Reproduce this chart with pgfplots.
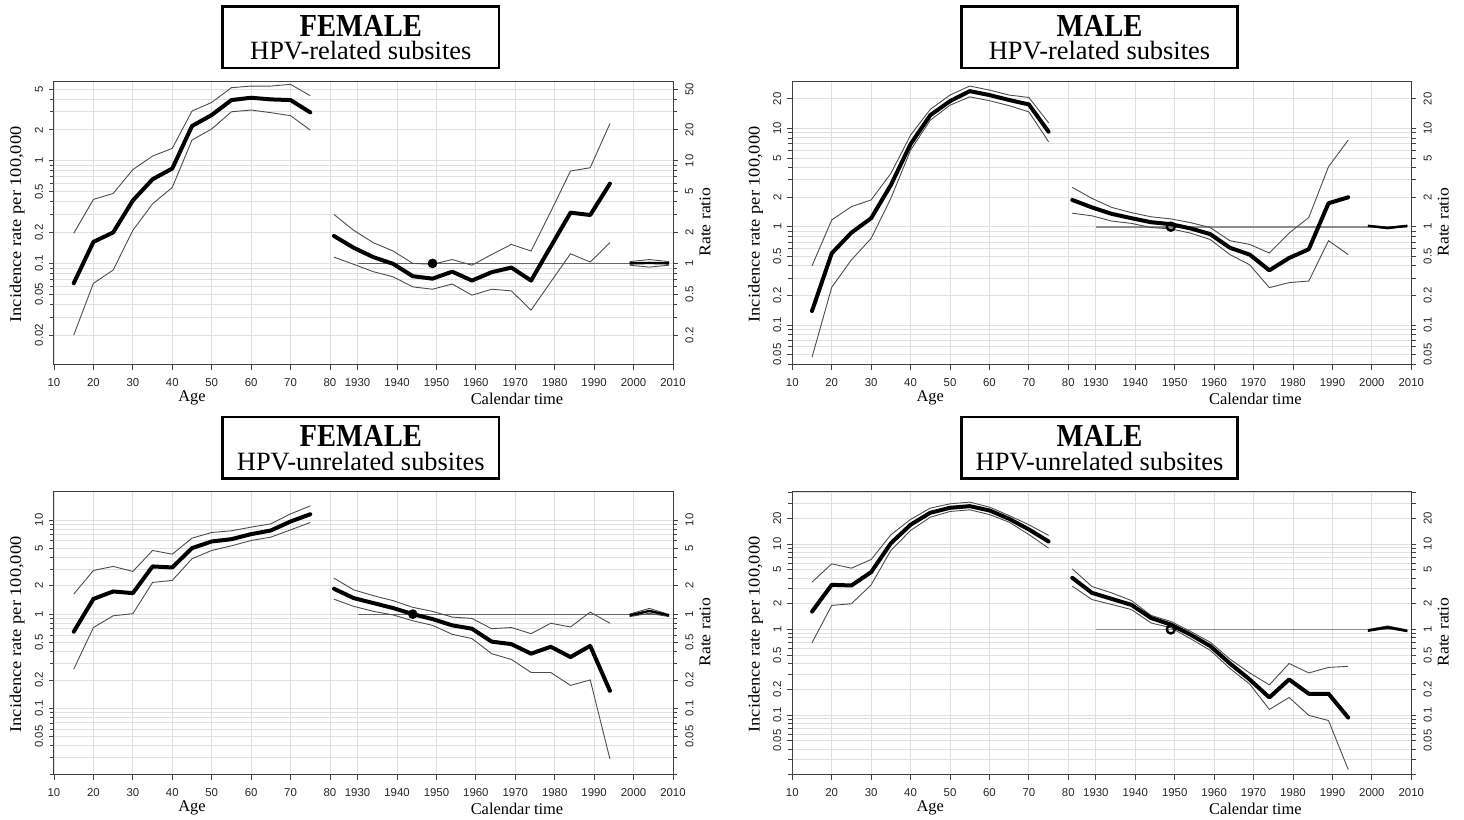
\documentclass[border=0pt]{standalone}
\usepackage{fontspec}
\setmainfont{Liberation Serif}
\newfontfamily\ticksf{Liberation Sans}
\usepackage{pgfplots}
\usepackage{pgfplotstable}
\pgfplotsset{compat=1.18}

% ---------------- data ----------------
\pgfplotstableread{
age fit lo hi
15 0.064 0.020 0.196
20 0.162 0.064 0.42
25 0.20 0.086 0.48
30 0.41 0.21 0.82
35 0.66 0.38 1.11
40 0.84 0.55 1.32
45 2.18 1.59 3.05
50 2.79 2.04 3.70
55 3.90 3.00 5.15
60 4.11 3.12 5.34
65 3.96 2.94 5.34
70 3.90 2.75 5.55
75 2.96 1.99 4.30
}\tlage
\pgfplotstableread{
yr fit lo hi
1924 1.85 1.15 3.0
1929 1.42 0.98 2.10
1934 1.15 0.83 1.59
1939 0.99 0.74 1.32
1944 0.75 0.59 1.0
1949 0.71 0.56 0.98
1954 0.83 0.63 1.09
1959 0.68 0.49 0.96
1964 0.82 0.56 1.22
1969 0.91 0.54 1.53
1974 0.68 0.35 1.32
1979 1.46 0.66 3.2
1984 3.12 1.24 7.94
1989 2.96 1.03 8.55
1994 5.98 1.59 23
}\tlcoh
\pgfplotstableread{
yr fit lo hi
1999 1.0 0.96 1.04
2004 1.01 0.92 1.09
2009 1.0 0.96 1.04
}\tlper

\pgfplotstableread{
age fit lo hi
15 0.139 0.047 0.40
20 0.536 0.242 1.17
25 0.87 0.46 1.60
30 1.22 0.76 1.87
35 2.65 1.94 3.48
40 6.92 6.01 8.54
45 13.6 12.1 15.6
50 18.9 17.2 21.8
55 23.9 20.9 26.9
60 21.8 19.1 24.5
65 19.4 17.0 21.8
70 17.5 14.7 20.6
75 9.23 7.31 11.4
}\trage
\pgfplotstableread{
yr fit lo hi
1924 1.87 1.37 2.51
1929 1.57 1.29 1.94
1934 1.35 1.14 1.57
1939 1.22 1.08 1.39
1944 1.11 0.98 1.26
1949 1.06 0.95 1.20
1954 0.96 0.86 1.10
1959 0.84 0.74 0.98
1964 0.61 0.52 0.72
1969 0.52 0.41 0.66
1974 0.36 0.24 0.54
1979 0.48 0.27 0.86
1984 0.59 0.28 1.24
1989 1.73 0.72 4.07
1994 1.99 0.52 7.6
}\trcoh
\pgfplotstableread{
yr fit lo hi
1999 1.02 1.01 1.03
2004 0.97 0.95 0.99
2009 1.02 1.01 1.03
}\trper

\pgfplotstableread{
age fit lo hi
15 0.65 0.26 1.63
20 1.45 0.72 2.91
25 1.74 0.96 3.21
30 1.67 1.01 2.84
35 3.21 2.17 4.74
40 3.13 2.28 4.33
45 5.02 3.87 6.41
50 5.91 4.74 7.36
55 6.25 5.31 7.67
60 7.07 6.05 8.39
65 7.73 6.57 9.10
70 9.63 7.85 11.6
75 11.5 9.40 14.1
}\blage
\pgfplotstableread{
yr fit lo hi
1924 1.86 1.44 2.41
1929 1.48 1.21 1.81
1934 1.31 1.07 1.57
1939 1.16 0.98 1.39
1944 1.0 0.85 1.18
1949 0.885 0.76 1.07
1954 0.76 0.61 0.93
1959 0.70 0.55 0.90
1964 0.51 0.38 0.70
1969 0.48 0.33 0.72
1974 0.38 0.24 0.62
1979 0.45 0.24 0.80
1984 0.35 0.175 0.73
1989 0.46 0.20 1.05
1994 0.153 0.029 0.80
}\blcoh
\pgfplotstableread{
yr fit lo hi
1999 0.97 0.94 1.0
2004 1.08 1.02 1.15
2009 0.97 0.94 0.99
}\blper

\pgfplotstableread{
age fit lo hi
15 1.62 0.70 3.58
20 3.33 1.91 5.86
25 3.27 2.0 5.21
30 4.69 3.33 6.59
35 10.2 8.40 12.8
40 16.8 14.4 19.4
45 23.2 20.6 26.3
50 26.5 24.0 29.5
55 27.7 25.1 30.9
60 24.7 22.1 27.0
65 19.7 18.0 21.5
70 14.8 12.9 16.8
75 10.7 8.94 12.6
}\brage
\pgfplotstableread{
yr fit lo hi
1924 4.02 3.21 5.12
1929 2.68 2.24 3.18
1934 2.28 1.96 2.68
1939 1.94 1.71 2.18
1944 1.36 1.19 1.46
1949 1.14 1.05 1.24
1954 0.87 0.78 0.95
1959 0.64 0.57 0.71
1964 0.40 0.35 0.45
1969 0.26 0.23 0.31
1974 0.16 0.116 0.225
1979 0.26 0.16 0.40
1984 0.177 0.099 0.31
1989 0.177 0.086 0.36
1994 0.093 0.023 0.37
}\brcoh
\pgfplotstableread{
yr fit lo hi
1999 0.97 0.95 1.0
2004 1.06 1.03 1.1
2009 0.96 0.94 0.99
}\brper

% ---------------- styles ----------------
\pgfplotsset{
  apcbase/.style={
    scale only axis, width=309.5pt, height=141.5pt,
    xmin=10, xmax=167, anchor=south west,
    axis line style={draw=black!75, line width=0.5pt},
    major tick style={draw=black!75, line width=0.4pt},
    minor tick style={draw=black!75, line width=0.35pt},
    tick align=outside, major tick length=2.5pt, minor tick length=2.2pt,
    ticklabel style={font=\ticksf\fontsize{5.7}{6}\selectfont, text=black!85},
  },
  apcmain/.style={
    xtick={10,20,30,40,50,60,70,80,87,97,107,117,127,137,147,157,167},
    xticklabels={10,20,30,40,50,60,70,80,1930,1940,1950,1960,1970,1980,1990,2000,2010},
    xtick pos=bottom, ytick pos=left,
    xmajorgrids, ymajorgrids, yminorgrids,
    major grid style={draw=black!12, line width=0.4pt},
    minor grid style={draw=black!12, line width=0.4pt},
    xticklabel style={anchor=north, inner sep=0pt},
    xticklabel shift=4pt,
    yticklabel style={rotate=90, anchor=south, inner sep=0pt},
    yticklabel shift=2.8pt,
  },
  apcrr/.style={
    axis x line=none, axis y line*=right, ytick pos=right,
    yticklabel style={rotate=90, anchor=north, inner sep=0pt},
    yticklabel shift=3.5pt,
  },
  fitl/.style={black, line width=2pt, line join=round, line cap=round},
  cil/.style={black!70, line width=0.45pt},
  refl/.style={black!60, line width=0.55pt},
  refm/.style={black!45, line width=0.9pt},
}

\begin{document}
\begin{tikzpicture}
\useasboundingbox (0,0) rectangle (732pt,410pt);

% ================= TOP LEFT =================
\begin{axis}[apcbase, apcmain, ymode=log, at={(27pt,227.65pt)}, ymin=0.0103, ymax=5.89,
  ytick={0.02,0.05,0.1,0.2,0.5,1,2,5},
  yticklabels={0.02,0.05,0.1,0.2,0.5,1,2,5},
  minor ytick={0.02,0.03,0.04,0.05,0.06,0.07,0.08,0.09,0.1,0.2,0.3,0.4,0.5,0.6,0.7,0.8,0.9,1,2,3,4,5}]
\addplot[cil] table[x=age,y=lo]{\tlage};
\addplot[cil] table[x=age,y=hi]{\tlage};
\addplot[fitl] table[x=age,y=fit]{\tlage};
\end{axis}
\begin{axis}[apcbase, apcrr, ymode=log, at={(27pt,227.65pt)}, ymin=0.103, ymax=58.9,
  ytick={0.1,0.2,0.5,1,2,5,10,20,50},
  yticklabels={0.1,0.2,0.5,1,2,5,10,20,50},
  minor ytick={0.2,0.3,0.4,0.5,0.6,0.7,0.8,0.9,1,2,3,4,5,6,7,8,9,10,20,30,40,50}]
\addplot[refl] coordinates {(87,1) (166,1)};
\addplot[cil] table[x expr=\thisrow{yr}-1843,y=lo]{\tlcoh};
\addplot[cil] table[x expr=\thisrow{yr}-1843,y=hi]{\tlcoh};
\addplot[fitl] table[x expr=\thisrow{yr}-1843,y=fit]{\tlcoh};
\addplot[cil] table[x expr=\thisrow{yr}-1843,y=lo]{\tlper};
\addplot[cil] table[x expr=\thisrow{yr}-1843,y=hi]{\tlper};
\addplot[black, line width=1.2pt] table[x expr=\thisrow{yr}-1843,y=fit]{\tlper};
\addplot[only marks, mark=*, mark size=2.2pt, black] coordinates {(106,1)};
\end{axis}

% ================= TOP RIGHT =================
\begin{axis}[apcbase, apcmain, ymode=log, at={(396.15pt,227.65pt)}, ymin=0.0395, ymax=29.8,
  ytick={0.05,0.1,0.2,0.5,1,2,5,10,20},
  yticklabels={0.05,0.1,0.2,0.5,1,2,5,10,20},
  minor ytick={0.04,0.05,0.06,0.07,0.08,0.09,0.1,0.2,0.3,0.4,0.5,0.6,0.7,0.8,0.9,1,2,3,4,5,6,7,8,9,10,20}]
\addplot[cil] table[x=age,y=lo]{\trage};
\addplot[cil] table[x=age,y=hi]{\trage};
\addplot[fitl] table[x=age,y=fit]{\trage};
\end{axis}
\begin{axis}[apcbase, apcrr, ymode=log, at={(396.15pt,227.65pt)}, ymin=0.0395, ymax=29.8,
  ytick={0.05,0.1,0.2,0.5,1,2,5,10,20},
  yticklabels={0.05,0.1,0.2,0.5,1,2,5,10,20},
  minor ytick={0.04,0.05,0.06,0.07,0.08,0.09,0.1,0.2,0.3,0.4,0.5,0.6,0.7,0.8,0.9,1,2,3,4,5,6,7,8,9,10,20}]
\addplot[refm] coordinates {(87,1) (166,1)};
\addplot[cil] table[x expr=\thisrow{yr}-1843,y=lo]{\trcoh};
\addplot[cil] table[x expr=\thisrow{yr}-1843,y=hi]{\trcoh};
\addplot[fitl] table[x expr=\thisrow{yr}-1843,y=fit]{\trcoh};
\addplot[cil] table[x expr=\thisrow{yr}-1843,y=lo]{\trper};
\addplot[cil] table[x expr=\thisrow{yr}-1843,y=hi]{\trper};
\addplot[black, line width=1.2pt] table[x expr=\thisrow{yr}-1843,y=fit]{\trper};
\addplot[only marks, mark=o, mark size=2pt, line width=1.2pt, black, fill=black!45] coordinates {(106,1)};
\end{axis}

% ================= BOTTOM LEFT =================
\begin{axis}[apcbase, apcmain, ymode=log, at={(27pt,22.65pt)}, ymin=0.0197, ymax=19.96,
  ytick={0.05,0.1,0.2,0.5,1,2,5,10},
  yticklabels={0.05,0.1,0.2,0.5,1,2,5,10},
  minor ytick={0.02,0.03,0.04,0.05,0.06,0.07,0.08,0.09,0.1,0.2,0.3,0.4,0.5,0.6,0.7,0.8,0.9,1,2,3,4,5,6,7,8,9,10}]
\addplot[cil] table[x=age,y=lo]{\blage};
\addplot[cil] table[x=age,y=hi]{\blage};
\addplot[fitl] table[x=age,y=fit]{\blage};
\end{axis}
\begin{axis}[apcbase, apcrr, ymode=log, at={(27pt,22.65pt)}, ymin=0.0197, ymax=19.96,
  ytick={0.05,0.1,0.2,0.5,1,2,5,10},
  yticklabels={0.05,0.1,0.2,0.5,1,2,5,10},
  minor ytick={0.02,0.03,0.04,0.05,0.06,0.07,0.08,0.09,0.1,0.2,0.3,0.4,0.5,0.6,0.7,0.8,0.9,1,2,3,4,5,6,7,8,9,10}]
\addplot[refl] coordinates {(87,1) (166,1)};
\addplot[cil] table[x expr=\thisrow{yr}-1843,y=lo]{\blcoh};
\addplot[cil] table[x expr=\thisrow{yr}-1843,y=hi]{\blcoh};
\addplot[fitl] table[x expr=\thisrow{yr}-1843,y=fit]{\blcoh};
\addplot[cil] table[x expr=\thisrow{yr}-1843,y=lo]{\blper};
\addplot[cil] table[x expr=\thisrow{yr}-1843,y=hi]{\blper};
\addplot[black, line width=1.2pt] table[x expr=\thisrow{yr}-1843,y=fit]{\blper};
\addplot[only marks, mark=*, mark size=2.2pt, black] coordinates {(101,1)};
\end{axis}

% ================= BOTTOM RIGHT =================
\begin{axis}[apcbase, apcmain, ymode=log, at={(396.15pt,22.65pt)}, ymin=0.0200, ymax=40.9,
  ytick={0.05,0.1,0.2,0.5,1,2,5,10,20},
  yticklabels={0.05,0.1,0.2,0.5,1,2,5,10,20},
  minor ytick={0.02,0.03,0.04,0.05,0.06,0.07,0.08,0.09,0.1,0.2,0.3,0.4,0.5,0.6,0.7,0.8,0.9,1,2,3,4,5,6,7,8,9,10,20,30,40}]
\addplot[cil] table[x=age,y=lo]{\brage};
\addplot[cil] table[x=age,y=hi]{\brage};
\addplot[fitl] table[x=age,y=fit]{\brage};
\end{axis}
\begin{axis}[apcbase, apcrr, ymode=log, at={(396.15pt,22.65pt)}, ymin=0.0200, ymax=40.9,
  ytick={0.05,0.1,0.2,0.5,1,2,5,10,20},
  yticklabels={0.05,0.1,0.2,0.5,1,2,5,10,20},
  minor ytick={0.02,0.03,0.04,0.05,0.06,0.07,0.08,0.09,0.1,0.2,0.3,0.4,0.5,0.6,0.7,0.8,0.9,1,2,3,4,5,6,7,8,9,10,20,30,40}]
\addplot[refm] coordinates {(87,1) (166,1)};
\addplot[cil] table[x expr=\thisrow{yr}-1843,y=lo]{\brcoh};
\addplot[cil] table[x expr=\thisrow{yr}-1843,y=hi]{\brcoh};
\addplot[fitl] table[x expr=\thisrow{yr}-1843,y=fit]{\brcoh};
\addplot[cil] table[x expr=\thisrow{yr}-1843,y=lo]{\brper};
\addplot[cil] table[x expr=\thisrow{yr}-1843,y=hi]{\brper};
\addplot[black, line width=1.2pt] table[x expr=\thisrow{yr}-1843,y=fit]{\brper};
\addplot[only marks, mark=o, mark size=2pt, line width=1.2pt, black, fill=black!45] coordinates {(106,1)};
\end{axis}

% ================= texts (pixel coordinates) =================
\begin{scope}[shift={(0pt,410pt)}, x=0.5pt, y=-0.5pt]
  \foreach \ox/\oy/\sex/\sub in {0/0/FEMALE/HPV-related subsites, 738.7/0/MALE/HPV-related subsites, 0/410.5/FEMALE/HPV-unrelated subsites, 738.7/410.5/MALE/HPV-unrelated subsites}{
    \begin{scope}[shift={(\ox,\oy)}]
      \draw[line width=1.3pt] (222.7,6.5) rectangle (499,68);
      \node[anchor=north, inner sep=0pt, align=center, font=\fontsize{13.2}{11.75}\selectfont]
        at (360.8,14.6) {{\fontsize{14.3}{11.75}\selectfont\bfseries\scalebox{1}[1.12]{\sex}}\\ \sub};
    \end{scope}
  }
  \foreach \ox/\oy in {0/0, 738.3/0, 0/410, 738.3/410}{
    \begin{scope}[shift={(\ox,\oy)}]
      \node[rotate=90, font=\fontsize{8.2}{9}\selectfont] at (17.3,224.5) {\scalebox{1.12}[1]{Incidence rate per 100,000}};
      \node[rotate=90, font=\fontsize{8.2}{9}\selectfont] at (705,222) {\scalebox{1.08}[1]{Rate ratio}};
      \node[font=\fontsize{8.2}{9}\selectfont] at (192,398) {Age};
      \node[font=\fontsize{8.2}{9}\selectfont] at (517,399) {Calendar time};
    \end{scope}
  }
\end{scope}
\end{tikzpicture}
\end{document}
